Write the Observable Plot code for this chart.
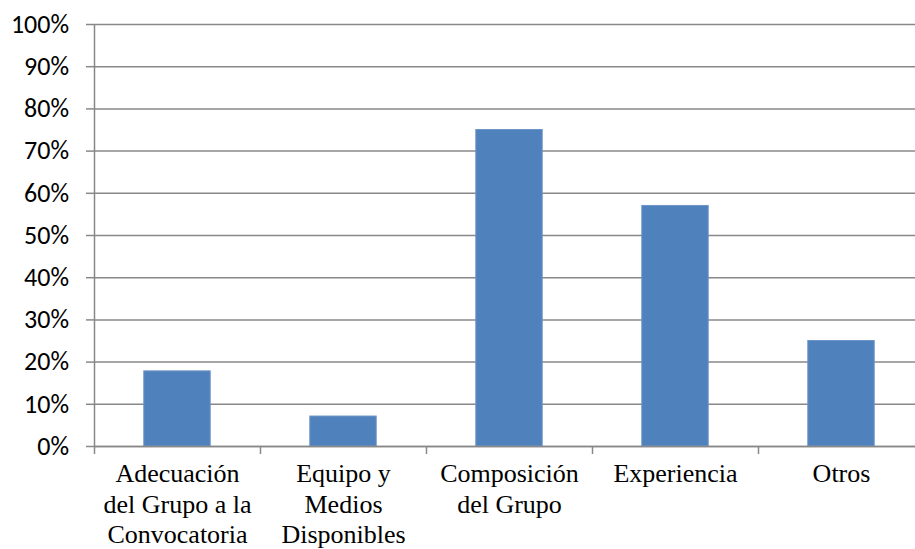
<!DOCTYPE html>
<html>
<head>
<meta charset="utf-8">
<script src="https://cdn.jsdelivr.net/npm/d3@7"></script>
<script src="https://cdn.jsdelivr.net/npm/@observablehq/plot@0.6"></script>
<style>
  html, body { margin: 0; padding: 0; background: white; overflow: hidden; }
  #chart svg { overflow: hidden; }
</style>
</head>
<body>
<div id="chart"></div>
<script>
const categories = [
  "Adecuación\ndel Grupo a la\nConvocatoria",
  "Equipo y\nMedios\nDisponibles",
  "Composición\ndel Grupo",
  "Experiencia",
  "Otros"
];
const values = [17.8, 7.1, 75, 57, 25];
const yTicks = [0, 10, 20, 30, 40, 50, 60, 70, 80, 90, 100];

const data = categories.map((c, i) => ({i, category: c, value: values[i]}));
const boundaries = d3.range(categories.length + 1);
const grid = "#888888";
const serifFont = "\"Liberation Serif\", \"Times New Roman\", Times, \"DejaVu Serif\", serif";

const chart = Plot.plot({
  width: 915,
  height: 549,
  marginLeft: 94,
  marginRight: 0,
  marginTop: 24,
  marginBottom: 103,
  style: {background: "white", overflow: "hidden"},
  x: {type: "linear", domain: [0, categories.length], range: [94, 924]},
  y: {domain: [0, 100]},
  marks: [
    Plot.ruleY(yTicks, {stroke: grid, strokeWidth: 1.5}),
    Plot.rectY(data, {
      x1: d => d.i + 0.3,
      x2: d => d.i + 0.7,
      y1: 0,
      y2: "value",
      fill: "#4F81BD",
      stroke: "#6E95C7",
      strokeWidth: 1
    }),
    Plot.ruleY([0], {stroke: grid, strokeWidth: 1.5}),
    Plot.ruleX([0], {y1: 0, y2: 100, stroke: grid, strokeWidth: 1.5}),
    Plot.axisY({
      ticks: yTicks,
      tickFormat: d => d + "%",
      tickSize: 8,
      tickPadding: 17.5,
      stroke: grid,
      strokeWidth: 1.5,
      fill: "black",
      fontSize: 26,
      fontFamily: "Carlito, Calibri, 'Liberation Sans', sans-serif",
      label: null
    }),
    Plot.axisX({
      ticks: boundaries,
      tickFormat: () => "",
      tickSize: 8,
      stroke: grid,
      strokeWidth: 1.5,
      label: null
    }),
    Plot.text(data, {
      x: d => d.i + 0.5,
      y: 0,
      text: "category",
      dy: 14,
      lineAnchor: "top",
      lineHeight: 1.17,
      fontSize: 26,
      fontFamily: serifFont,
      fill: "black",
      ariaLabel: "xlabels"
    })
  ]
});
d3.select(chart).selectAll("g[aria-label='xlabels'], g[aria-label='xlabels'] text, g[aria-label='xlabels'] tspan")
  .style("font-family", serifFont);
document.getElementById("chart").appendChild(chart);
</script>
</body>
</html>
